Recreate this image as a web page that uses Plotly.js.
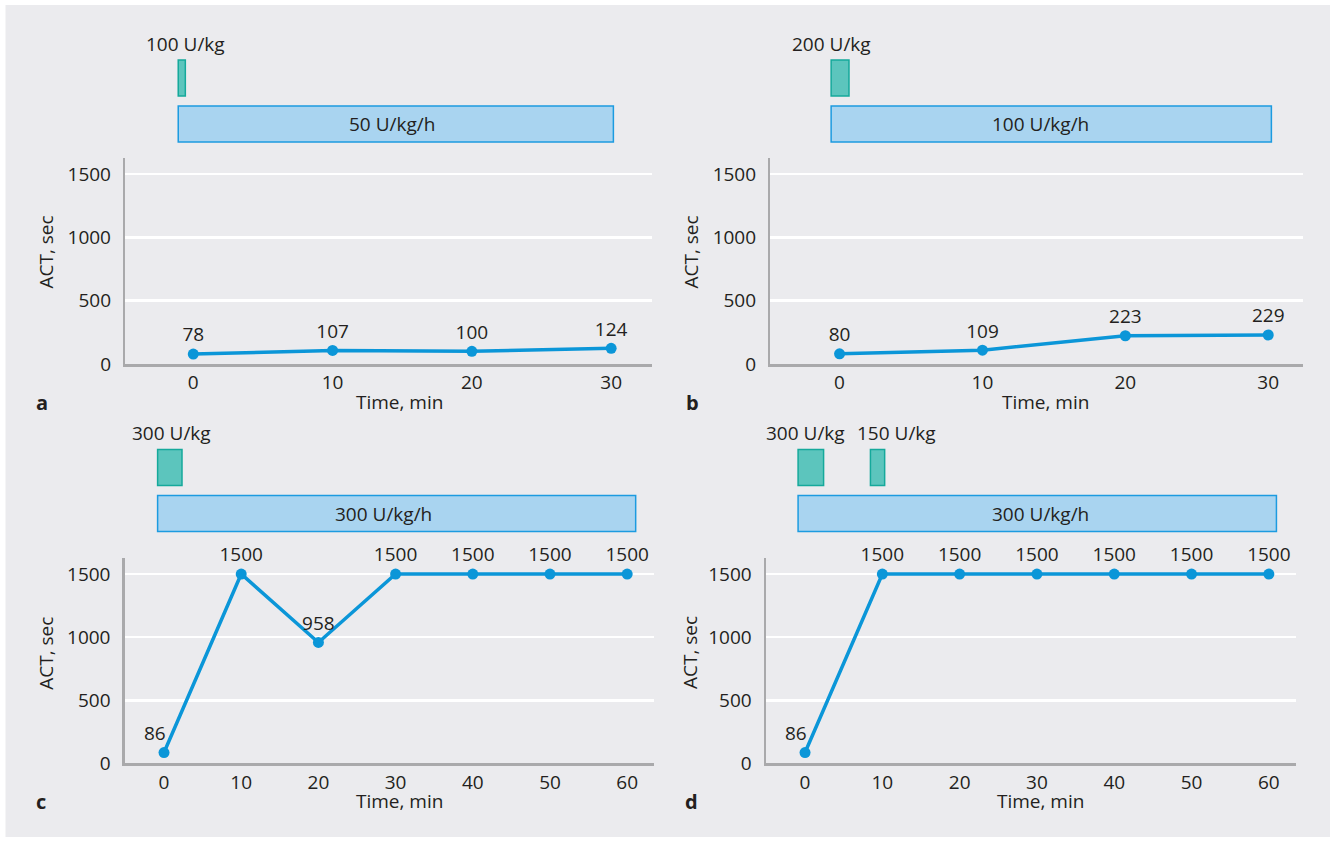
<!DOCTYPE html>
<html>
<head>
<meta charset="utf-8">
<script src="https://cdn.plot.ly/plotly-3.0.1.min.js"></script>
<style>
  html, body { margin: 0; padding: 0; background: #ffffff; }
  #chart { width: 1335px; height: 841px; }
</style>
</head>
<body>
<div id="chart"></div>
<script>
// ---------------- DATA ----------------
const TIME_AB = [0, 10, 20, 30];
const ACT_A = [78, 107, 100, 124];
const ACT_B = [80, 109, 223, 229];
const TIME_CD = [0, 10, 20, 30, 40, 50, 60];
const ACT_C = [86, 1500, 958, 1500, 1500, 1500, 1500];
const ACT_D = [86, 1500, 1500, 1500, 1500, 1500, 1500];

// bolus doses (minutes)
const BOLUS_LABEL_A = ['100 U/kg'];
const BOLUS_START_A = [-1.08];
const BOLUS_END_A = [-0.57];
const BOLUS_LABEL_B = ['200 U/kg'];
const BOLUS_START_B = [-0.59];
const BOLUS_END_B = [0.66];
const BOLUS_LABEL_C = ['300 U/kg'];
const BOLUS_START_C = [-0.83];
const BOLUS_END_C = [2.33];
const BOLUS_LABEL_D = ['300 U/kg', '150 U/kg'];
const BOLUS_START_D = [-0.9, 8.46];
const BOLUS_END_D = [2.4, 10.3];

// continuous infusion (minutes)
const INFUSION_LABEL = ['50 U/kg/h', '100 U/kg/h', '300 U/kg/h', '300 U/kg/h'];
const INFUSION_START = [-1.08, -0.59, -0.83, -0.9];
const INFUSION_END = [30.16, 30.22, 61.1, 60.98];

const PANEL_LETTERS = ['a', 'b', 'c', 'd'];
const Y_TICKS = [0, 500, 1000, 1500];
const Y_TITLE = 'ACT, sec';
const X_TITLE = 'Time, min';

// ---------------- STYLE / LAYOUT ----------------
const W = 1335, H = 841;
const FONT = 'Open Sans, Liberation Sans, Arial, sans-serif';
const TXT = '#231f20';
const LINE_BLUE = '#0b96d8';
const AXIS_GRAY = '#a9a9ab';
const BG_GRAY = '#ebebee';

const px = v => v / W;
const py = v => 1 - v / H;

// pixel geometry of each panel; 'sideLabel' = index of the point whose value label sits up-left
const PANELS = [
  { xr: [-4.88, 32.94], xd: [125.3, 652.1], yd: [158.3, 364], yr: [0, 1624], dose: [30, 150],
    time: TIME_AB, act: ACT_A, bl: BOLUS_LABEL_A, bs: BOLUS_START_A, be: BOLUS_END_A,
    blShift: [3.7], barShift: -4, sideLabel: -1,
    ytx: 45, yty: 252.5, xtx: 399, xty: 402, lx: 41.5, ly: 402 },
  { xr: [-4.84, 32.44], xd: [770.4, 1303.1], yd: [158.3, 364], yr: [0, 1624], dose: [30, 150],
    time: TIME_AB, act: ACT_B, bl: BOLUS_LABEL_B, bs: BOLUS_START_B, be: BOLUS_END_B,
    blShift: [-9], barShift: -11, sideLabel: -1,
    ytx: 690, yty: 252.5, xtx: 1045.6, xty: 402, lx: 692.7, ly: 402 },
  { xr: [-5.08, 63.5], xd: [124.8, 654.2], yd: [558, 763.4], yr: [0, 1627], dose: [419.5, 539.5],
    time: TIME_CD, act: ACT_C, bl: BOLUS_LABEL_C, bs: BOLUS_START_C, be: BOLUS_END_C,
    blShift: [1.4], barShift: -13, sideLabel: 0,
    ytx: 45.8, yty: 653, xtx: 399, xty: 801, lx: 41, ly: 801 },
  { xr: [-5.05, 63.55], xd: [766, 1296.3], yd: [558, 763.4], yr: [0, 1627], dose: [419.5, 539.5],
    time: TIME_CD, act: ACT_D, bl: BOLUS_LABEL_D, bs: BOLUS_START_D, be: BOLUS_END_D,
    blShift: [-5, 18.7], barShift: 3, sideLabel: 0,
    ytx: 690, yty: 653, xtx: 1040, xty: 801, lx: 691, ly: 801 }
];

// rows of the dose track (fraction of dose-track height, bottom = 0)
const ROW_BAR = [0.0667, 0.3667];
const ROW_BOLUS = [0.45, 0.75];
const ROW_LABEL = 0.885;

const traces = [];
const shapes = [];
const annotations = [];
const layout = {
  width: W, height: H,
  margin: { l: 0, r: 0, t: 0, b: 0, pad: 0 },
  paper_bgcolor: '#ffffff',
  plot_bgcolor: 'rgba(0,0,0,0)',
  showlegend: false,
  font: { family: FONT, size: 19, color: TXT },
  hovermode: false
};

// gray figure background
shapes.push({ type: 'rect', xref: 'paper', yref: 'paper', layer: 'below',
  x0: px(5.5), x1: px(1330), y0: py(5), y1: py(837),
  fillcolor: BG_GRAY, line: { width: 0 } });

PANELS.forEach((p, i) => {
  const n = i + 1;
  const xid = n === 1 ? 'x' : 'x' + n;
  const yid = n === 1 ? 'y' : 'y' + n;
  const did = 'y' + (n + 4);
  const xKey = n === 1 ? 'xaxis' : 'xaxis' + n;
  const yKey = n === 1 ? 'yaxis' : 'yaxis' + n;
  const dKey = 'yaxis' + (n + 4);

  layout[xKey] = {
    domain: [px(p.xd[0]), px(p.xd[1])], range: p.xr, anchor: yid,
    showgrid: false, zeroline: false, showline: true, linecolor: AXIS_GRAY, linewidth: 2.5,
    ticks: '', tick0: 0, dtick: 10, ticklabelstandoff: 0,
    tickfont: { family: FONT, size: 19, color: TXT }, fixedrange: true
  };
  layout[yKey] = {
    domain: [py(p.yd[1]), py(p.yd[0])], range: p.yr, anchor: xid,
    showgrid: true, gridcolor: '#ffffff', gridwidth: 2.5, zeroline: false,
    showline: true, linecolor: AXIS_GRAY, linewidth: 2.5,
    ticks: '', tickvals: Y_TICKS, ticklabelstandoff: 8,
    tickfont: { family: FONT, size: 19, color: TXT }, fixedrange: true
  };
  layout[dKey] = {
    domain: [py(p.dose[1]), py(p.dose[0])], range: [0, 1], anchor: xid,
    visible: false, showgrid: false, zeroline: false, fixedrange: true
  };

  // ACT line with value labels
  traces.push({
    type: 'scatter', mode: 'lines+markers+text', xaxis: xid, yaxis: yid,
    x: p.time, y: p.act,
    text: p.act.map((v, k) => (k === p.sideLabel ? '' : String(v))),
    textposition: 'top center',
    textfont: { family: FONT, size: 19, color: TXT },
    line: { color: LINE_BLUE, width: 3.5 },
    marker: { color: LINE_BLUE, size: 11 },
    cliponaxis: false, hoverinfo: 'skip'
  });
  if (p.sideLabel >= 0) {
    const k = p.sideLabel;
    annotations.push({ xref: xid, yref: yid, x: p.time[k], y: p.act[k], text: String(p.act[k]),
      showarrow: false, xshift: -9, yshift: 20, xanchor: 'center', yanchor: 'middle',
      font: { family: FONT, size: 19, color: TXT } });
  }
  // dose-track subplot holder
  traces.push({ type: 'scatter', mode: 'markers', xaxis: xid, yaxis: did,
    x: [null], y: [null], hoverinfo: 'skip' });

  // infusion bar
  shapes.push({ type: 'rect', xref: xid, yref: did, layer: 'above',
    x0: INFUSION_START[i], x1: INFUSION_END[i], y0: ROW_BAR[0], y1: ROW_BAR[1],
    fillcolor: '#a9d4f0', line: { color: '#1c9be0', width: 1.5 } });
  annotations.push({ xref: xid, yref: did, x: (INFUSION_START[i] + INFUSION_END[i]) / 2,
    y: (ROW_BAR[0] + ROW_BAR[1]) / 2, xshift: p.barShift, text: INFUSION_LABEL[i], showarrow: false,
    font: { family: FONT, size: 19, color: TXT }, xanchor: 'center', yanchor: 'middle' });

  // boluses
  p.bl.forEach((lab, k) => {
    shapes.push({ type: 'rect', xref: xid, yref: did, layer: 'above',
      x0: p.bs[k], x1: p.be[k], y0: ROW_BOLUS[0], y1: ROW_BOLUS[1],
      fillcolor: '#5cc5bd', line: { color: '#15a99b', width: 1.5 } });
    annotations.push({ xref: xid, yref: did, x: (p.bs[k] + p.be[k]) / 2, y: ROW_LABEL,
      xshift: p.blShift[k], text: lab, showarrow: false,
      font: { family: FONT, size: 19, color: TXT }, xanchor: 'center', yanchor: 'middle' });
  });

  // axis titles
  annotations.push({ xref: 'paper', yref: 'paper', x: px(p.ytx), y: py(p.yty), text: Y_TITLE,
    textangle: -90, showarrow: false, font: { family: FONT, size: 19, color: TXT },
    xanchor: 'center', yanchor: 'middle' });
  annotations.push({ xref: 'paper', yref: 'paper', x: px(p.xtx), y: py(p.xty), text: X_TITLE,
    showarrow: false, font: { family: FONT, size: 19, color: TXT },
    xanchor: 'center', yanchor: 'middle' });
  // panel letter
  annotations.push({ xref: 'paper', yref: 'paper', x: px(p.lx), y: py(p.ly),
    text: '<b>' + PANEL_LETTERS[i] + '</b>', showarrow: false,
    font: { family: FONT, size: 20, color: TXT }, xanchor: 'center', yanchor: 'middle' });
});

layout.shapes = shapes;
layout.annotations = annotations;

Plotly.newPlot('chart', traces, layout, { staticPlot: true, displayModeBar: false });
</script>
</body>
</html>
